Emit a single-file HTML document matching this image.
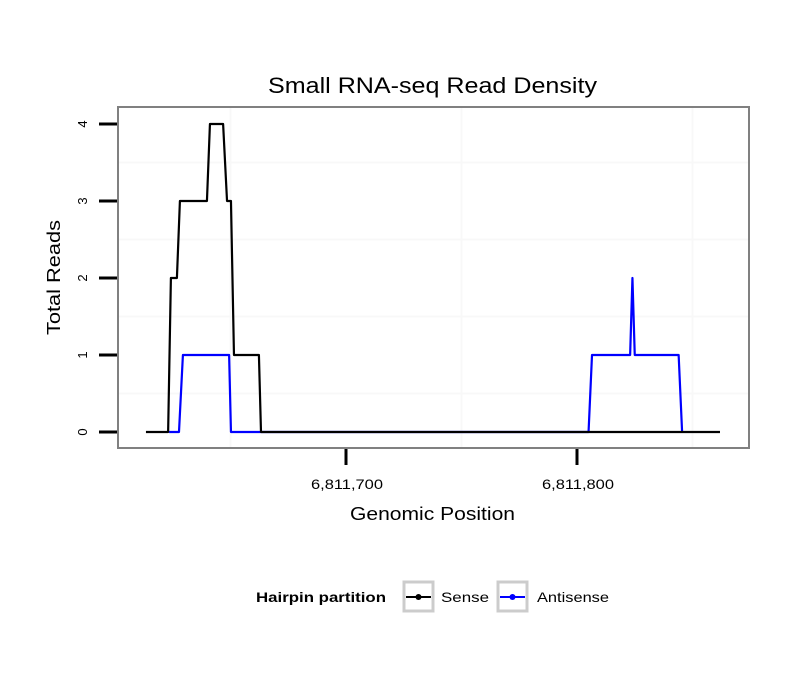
<!DOCTYPE html>
<html><head><meta charset="utf-8"><style>
body{margin:0;background:#fff;font-family:"Liberation Sans",sans-serif}
</style></head><body>
<svg width="810" height="690" font-family="Liberation Sans, sans-serif">
<text x="268" y="93" textLength="329" lengthAdjust="spacingAndGlyphs" font-size="22">Small RNA-seq Read Density</text>
<g id="grid"></g>
<rect x="118" y="107" width="631" height="341" fill="none" stroke="#808080" stroke-width="2"/>
<g id="marks"></g>
<g id="axes"></g>
<text x="350" y="520" textLength="165" lengthAdjust="spacingAndGlyphs" font-size="18">Genomic Position</text>
<text transform="translate(60,335) rotate(-90)" textLength="115" lengthAdjust="spacingAndGlyphs" font-size="18">Total Reads</text>
<g>
<text x="256" y="602" textLength="130" lengthAdjust="spacingAndGlyphs" font-size="14" font-weight="bold">Hairpin partition</text>
<g>
<rect x="404" y="582" width="29" height="29" fill="#fff" stroke="#ccc" stroke-width="3"/>
<line x1="406" y1="597" x2="431" y2="597" stroke="#000" stroke-width="2"/><circle cx="418.5" cy="597" r="3" fill="#000"/>
<text x="441" y="602" textLength="48" lengthAdjust="spacingAndGlyphs" font-size="14">Sense</text></g>
<g>
<rect x="498" y="582" width="29" height="29" fill="#fff" stroke="#ccc" stroke-width="3"/>
<line x1="500" y1="597" x2="525" y2="597" stroke="#00f" stroke-width="2"/><circle cx="512.5" cy="597" r="3" fill="#00f"/>
<text x="537" y="602" textLength="72" lengthAdjust="spacingAndGlyphs" font-size="14">Antisense</text></g>
</g>
</svg>
<script>
const senseX=[-86.6,-77,-75.8,-73.2,-71.9,-60.2,-58.9,-53.2,-51.5,-49.8,-48.5,-37.7,-36.8,161.9];
const senseY=[0,0,2,2,3,3,4,4,3,3,1,1,0,0];
const antiX=[-76.6,-72.3,-70.6,-50.6,-49.8,-36.8,105,106.5,123,124,125,144,145.5];
const antiY=[0,0,1,1,0,0,0,1,1,2,1,1,0];
const xTicks=[0,100];
const xTickLabels=["6,811,700","6,811,800"];
const yTicks=[0,1,2,3,4];
const sx=v=>346+v*2.31, sy=v=>432-v*77;
const NS="http://www.w3.org/2000/svg";
function mk(t,a,p){const e=document.createElementNS(NS,t);for(const k in a)e.setAttribute(k,a[k]);p.appendChild(e);return e;}
const grid=document.getElementById('grid'),axes=document.getElementById('axes'),marks=document.getElementById('marks');
[-50,50,150].forEach(v=>{const l=mk('line',{x1:sx(v),x2:sx(v),y1:108,y2:447,stroke:'#f8f8f8','stroke-width':2},grid);});
[0.5,1.5,2.5,3.5].forEach(v=>{const l=mk('line',{x1:119,x2:748,y1:sy(v),y2:sy(v),stroke:'#f8f8f8','stroke-width':2},grid);});
yTicks.forEach(v=>{
const l=mk('line',{x1:99,x2:117,y1:sy(v),y2:sy(v),stroke:'#000','stroke-width':3},axes);

const t=mk('text',{transform:`translate(87,${sy(v)}) rotate(-90)`,'text-anchor':'middle','font-size':13},axes);t.textContent=v;
});
xTicks.forEach((v,i)=>{
const l=mk('line',{x1:sx(v),x2:sx(v),y1:449,y2:465,stroke:'#000','stroke-width':3},axes);

const t=mk('text',{x:sx(v)-35,y:489,textLength:72,lengthAdjust:'spacingAndGlyphs','font-size':14},axes);t.textContent=xTickLabels[i];
});
function path(xs,ys,c,name){const d=xs.map((x,i)=>(i?'L':'M')+sx(x)+' '+sy(ys[i])).join(' ');
const p=mk('path',{d:d,fill:'none',stroke:c,'stroke-width':2.2,'stroke-linejoin':'round'},marks);
}
path(antiX,antiY,'#00f','antisense-line');
path(senseX,senseY,'#000','sense-line');
</script>
</body></html>
